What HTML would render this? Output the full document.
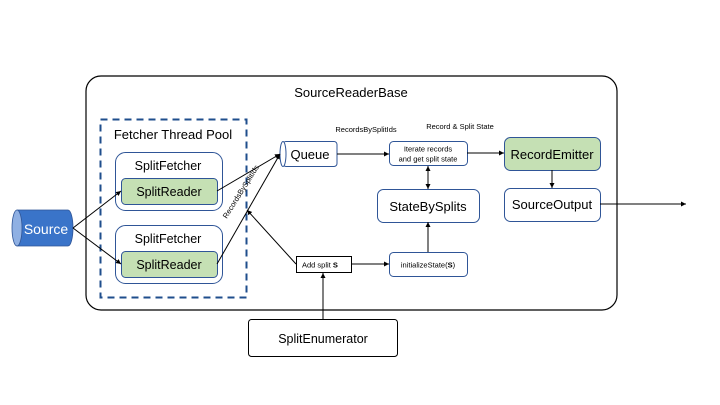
<!DOCTYPE html>
<html><head><meta charset="utf-8"><style>
html,body{margin:0;padding:0;background:#fff;}
svg{display:block;font-family:"Liberation Sans",sans-serif;}
</style></head><body>
<svg width="720" height="405" viewBox="0 0 720 405" xmlns="http://www.w3.org/2000/svg">
<defs>
<marker id="a" markerWidth="6" markerHeight="6" refX="5" refY="3" orient="auto" markerUnits="userSpaceOnUse"><path d="M0,0.5 L5,3 L0,5.5z" fill="#000"/></marker>
</defs>
<rect x="0" y="0" width="720" height="405" fill="#fff"/>
<rect x="86" y="76" width="531" height="234" rx="15" fill="none" stroke="#000" stroke-width="1.2"/>
<text x="351" y="97" font-size="13" text-anchor="middle">SourceReaderBase</text>
<rect x="100.5" y="119.5" width="146" height="178" fill="none" stroke="#1f4e8c" stroke-width="2" stroke-dasharray="7,5"/>
<text x="173" y="139" font-size="13" text-anchor="middle">Fetcher Thread Pool</text>
<rect x="115.5" y="152.5" width="107" height="58" rx="10" fill="#fff" stroke="#2f5597"/>
<text x="168" y="170" font-size="12.5" text-anchor="middle">SplitFetcher</text>
<rect x="121.5" y="178.5" width="96" height="26" rx="4" fill="#c5e0b4" stroke="#2f5597"/>
<text x="169" y="196" font-size="12.5" text-anchor="middle">SplitReader</text>
<rect x="115.5" y="225.5" width="107" height="58" rx="10" fill="#fff" stroke="#2f5597"/>
<text x="168" y="243" font-size="12.5" text-anchor="middle">SplitFetcher</text>
<rect x="121.5" y="251.5" width="96" height="26" rx="4" fill="#c5e0b4" stroke="#2f5597"/>
<text x="169" y="269" font-size="12.5" text-anchor="middle">SplitReader</text>
<path d="M17,210 L68,210 A5,18 0 0 1 68,246 L17,246 Z" fill="#3a74c9" stroke="#2f5597" stroke-width="0.8"/>
<ellipse cx="17" cy="228" rx="5" ry="18" fill="#8fb0e3" stroke="#2f5597" stroke-width="0.8"/>
<text x="46" y="234" font-size="14" fill="#fff" text-anchor="middle">Source</text>
<rect x="283" y="141.5" width="54" height="25" rx="3" fill="#fff" stroke="#2f5597"/>
<ellipse cx="283" cy="154" rx="3" ry="12.5" fill="#fff" stroke="#2f5597"/>
<text x="310" y="159" font-size="13" text-anchor="middle">Queue</text>
<rect x="389.5" y="141.5" width="78" height="24" rx="4" fill="#fff" stroke="#2f5597"/>
<text x="428" y="151.5" font-size="7.5" text-anchor="middle">Iterate records</text>
<text x="428" y="161.5" font-size="7.5" text-anchor="middle">and get split state</text>
<rect x="504.5" y="137.5" width="96" height="33" rx="6" fill="#c5e0b4" stroke="#2f5597"/>
<text x="552" y="159" font-size="13" text-anchor="middle">RecordEmitter</text>
<rect x="504.5" y="188.5" width="96" height="33" rx="6" fill="#fff" stroke="#2f5597"/>
<text x="552" y="209" font-size="13" text-anchor="middle">SourceOutput</text>
<rect x="377.5" y="189.5" width="102" height="33" rx="6" fill="#fff" stroke="#2f5597"/>
<text x="428" y="211" font-size="13" text-anchor="middle">StateBySplits</text>
<rect x="389.5" y="252.5" width="78" height="24" rx="4" fill="#fff" stroke="#2f5597"/>
<text x="428" y="267.5" font-size="7.5" text-anchor="middle">initializeState(<tspan font-weight="bold">S</tspan>)</text>
<rect x="296.5" y="256.5" width="55" height="16" fill="#fff" stroke="#000"/>
<text x="302" y="267.5" font-size="7.5">Add split <tspan font-weight="bold">S</tspan></text>
<rect x="248.5" y="319.5" width="149" height="37" rx="3" fill="#fff" stroke="#000"/>
<text x="323" y="343" font-size="12.5" text-anchor="middle">SplitEnumerator</text>
<text x="366" y="132" font-size="7.5" text-anchor="middle">RecordsBySplitIds</text>
<text x="460" y="129" font-size="7.5" text-anchor="middle">Record &amp; Split State</text>
<text x="0" y="0" font-size="7.5" text-anchor="middle" transform="translate(243,193) rotate(-58)">RecordsBySplitIds</text>
<g stroke="#000" stroke-width="1" fill="none">
<line x1="73" y1="228" x2="121" y2="191" marker-end="url(#a)"/>
<line x1="73" y1="228" x2="121" y2="264" marker-end="url(#a)"/>
<line x1="217" y1="191" x2="280" y2="154" marker-end="url(#a)"/>
<line x1="217" y1="264" x2="280" y2="154" marker-end="url(#a)"/>
<line x1="296" y1="264" x2="247" y2="210" marker-end="url(#a)"/>
<line x1="337" y1="154" x2="389" y2="154" marker-end="url(#a)"/>
<line x1="467" y1="153" x2="504" y2="153" marker-end="url(#a)"/>
<line x1="552" y1="170" x2="552" y2="188" marker-end="url(#a)"/>
<line x1="600" y1="204" x2="686" y2="204" marker-end="url(#a)"/>
<line x1="428" y1="178" x2="428" y2="189" marker-end="url(#a)"/>
<line x1="428" y1="178" x2="428" y2="166" marker-end="url(#a)"/>
<line x1="428" y1="252" x2="428" y2="222" marker-end="url(#a)"/>
<line x1="351" y1="264" x2="389" y2="264" marker-end="url(#a)"/>
<line x1="323" y1="319" x2="323" y2="273" marker-end="url(#a)"/>
</g>
</svg>
</body></html>
